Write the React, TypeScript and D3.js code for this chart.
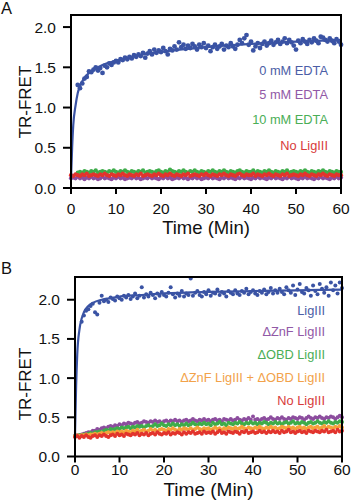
import React from "react";
import * as d3 from "d3";

const W = 354;
const H = 500;
const FONT = "'Liberation Sans', Arial, Helvetica, sans-serif";

const xTicks = [0, 10, 20, 30, 40, 50, 60];
const yTicks = [0, 0.5, 1, 1.5, 2];
const yTickLabels = ["0.0", "0.5", "1.0", "1.5", "2.0"];
const xTitle = "Time (Min)";
const yTitle = "TR-FRET";
const STEP = 0.5; // sampling interval, minutes

// ---------- Panel A ----------
const aBlueStart = 1.5;
const aBlue = [
  1.28, 1.24, 1.30, 1.36, 1.38, 1.45, 1.44, 1.47, 1.50, 1.46,
  1.49, 1.43, 1.52, 1.50, 1.55, 1.53, 1.56, 1.58, 1.56, 1.60,
  1.59, 1.62, 1.60, 1.63, 1.61, 1.65, 1.63, 1.66, 1.64, 1.68,
  1.62, 1.67, 1.70, 1.66, 1.72, 1.68, 1.71, 1.69, 1.74, 1.70,
  1.66, 1.73, 1.71, 1.76, 1.72, 1.81, 1.75, 1.78, 1.73, 1.77,
  1.74, 1.79, 1.76, 1.72, 1.78, 1.75, 1.80, 1.74, 1.77, 1.70,
  1.75, 1.78, 1.73, 1.76, 1.79, 1.72, 1.77, 1.75, 1.80, 1.76,
  1.73, 1.78, 1.84, 1.80, 1.86, 1.90, 1.78, 1.82, 1.71, 1.76,
  1.80, 1.74, 1.79, 1.82, 1.77, 1.80, 1.83, 1.78, 1.81, 1.84,
  1.79, 1.82, 1.86, 1.80, 1.84, 1.81, 1.77, 1.72, 1.83, 1.80,
  1.85, 1.82, 1.79, 1.84, 1.81, 1.86, 1.83, 1.80, 1.88, 1.87,
  1.84, 1.82, 1.86, 1.83, 1.80, 1.85, 1.82, 1.78,
];
const aPurple = [
  .12, .13, .12, .14, .12, .13, .11, .13, .12, .14,
  .12, .13, .11, .12, .14, .12, .13, .12, .11, .13,
  .12, .14, .12, .13, .11, .12, .13, .12, .14, .12,
  .13, .11, .12, .13, .12, .14, .12, .13, .12, .11,
  .13, .12, .14, .12, .13, .11, .12, .13, .12, .14,
  .12, .13, .11, .13, .12, .14, .12, .13, .11, .12,
  .13, .12, .14, .12, .13, .12, .11, .13, .12, .14,
  .12, .13, .12, .11, .13, .12, .14, .12, .13, .12,
  .11, .13, .12, .14, .12, .13, .12, .11, .13, .12,
  .14, .12, .13, .12, .11, .13, .12, .14, .12, .13,
  .12, .11, .13, .12, .14, .12, .13, .12, .11, .13,
  .12, .14, .12, .13, .12, .11, .13, .12, .14, .12,
  .13,
];
const aRed = [
  .16, .15, .17, .16, .15, .17, .16, .18, .15, .16,
  .17, .16, .15, .17, .16, .18, .16, .15, .17, .16,
  .15, .17, .16, .18, .16, .15, .17, .16, .15, .17,
  .16, .18, .15, .16, .17, .16, .15, .17, .16, .18,
  .16, .15, .17, .16, .18, .16, .15, .17, .16, .15,
  .17, .16, .18, .15, .16, .17, .16, .15, .17, .16,
  .18, .16, .15, .17, .16, .15, .17, .16, .18, .16,
  .15, .17, .16, .15, .17, .18, .16, .15, .17, .16,
  .16, .18, .15, .17, .16, .15, .17, .16, .18, .16,
  .15, .17, .16, .15, .17, .16, .18, .15, .16, .17,
  .16, .15, .17, .16, .18, .16, .15, .17, .16, .15,
  .17, .16, .18, .16, .15, .17, .16, .15, .17, .16,
  .16,
];
const aGreen = [
  null, null, null, .19, .20, .19, .21, .20, .19, .21,
  .20, .22, .19, .20, .21, .20, .19, .21, .20, .22,
  .20, .19, .21, .20, .22, .20, .19, .21, .20, .19,
  .21, .20, .22, .19, .20, .21, .20, .19, .21, .22,
  .20, .19, .21, .20, .23, .21, .20, .19, .21, .20,
  .22, .20, .19, .21, .20, .22, .20, .19, .21, .20,
  .19, .21, .20, .22, .20, .19, .21, .20, .22, .20,
  .19, .21, .20, .19, .21, .22, .20, .19, .21, .20,
  .20, .22, .19, .21, .20, .19, .21, .20, .22, .20,
  .19, .21, .20, .19, .21, .20, .22, .19, .20, .21,
  .20, .19, .21, .20, .22, .20, .19, .21, .20, .19,
  .21, .20, .22, .20, .19, .21, .20, .19, .21, .20,
  .20,
];
const aFitT = [0, 0.25, 0.5, 1, 1.5, 2, 3, 4, 6, 8, 10, 15, 20, 30, 40, 50, 60];
const aFitV = [0.12, 0.5, 0.78, 1.02, 1.18, 1.27, 1.37, 1.43, 1.50, 1.55, 1.58, 1.65, 1.69, 1.75, 1.79, 1.82, 1.84];
const aLegend = ["0 mM EDTA", "5 mM EDTA", "10 mM EDTA", "No LigIII"];

// ---------- Panel B ----------
const bBlueStart = 1.5;
const bBlue = [
  1.72, 1.80, 1.86, 1.88, 1.92, 1.95, 1.84, 1.81, 1.96, 2.05,
  1.98, 2.00, 1.97, 2.03, 2.01, 1.99, 2.04, 2.02, 2.00, 2.05,
  2.03, 2.06, 2.01, 2.04, 2.08, 2.02, 2.05, 2.16, 2.03, 2.07,
  2.04, 2.09, 2.06, 2.02, 2.08, 2.05, 2.10, 2.06, 2.04, 2.09,
  2.16, 2.07, 2.03, 2.08, 2.05, 2.11, 2.04, 2.08, 2.06, 2.27,
  2.05, 2.09, 2.11, 2.06, 2.04, 2.10, 2.07, 2.12, 2.05, 2.09,
  2.08, 2.13, 2.06, 2.10, 2.08, 2.04, 2.11, 2.09, 2.07, 2.12,
  2.08, 2.06, 2.11, 2.09, 2.14, 2.07, 2.10, 2.12, 2.08, 2.06,
  2.11, 2.09, 2.13, 2.07, 2.10, 2.15, 2.08, 2.12, 2.09, 2.14,
  2.10, 2.07, 2.16, 2.12, 2.09, 2.18, 2.06, 2.13, 2.20, 2.10,
  2.08, 2.15, 2.12, 2.05, 2.18, 2.11, 2.07, 2.20, 2.14, 2.09,
  2.16, 2.05, 2.22, 2.12, 2.18, 2.08, 2.22, 2.15,
];
const bPurple = [
  .26, .27, .27, .28, .29, .30, .31, .31, .33, .33,
  .35, .34, .36, .37, .36, .38, .39, .38, .40, .39,
  .41, .40, .42, .41, .43, .42, .41, .43, .44, .42,
  .43, .45, .44, .43, .45, .44, .46, .44, .45, .43,
  .45, .46, .44, .46, .45, .47, .45, .46, .44, .46,
  .47, .45, .46, .48, .46, .45, .47, .46, .48, .46,
  .47, .45, .47, .48, .46, .47, .45, .48, .47, .46,
  .48, .46, .47, .49, .47, .46, .48, .47, .49, .47,
  .51, .47, .48, .46, .48, .49, .47, .48, .50, .48,
  .47, .49, .48, .50, .48, .47, .49, .48, .50, .49,
  .48, .50, .49, .47, .49, .51, .49, .48, .50, .49,
  .51, .49, .48, .50, .49, .51, .50, .48, .50, .52,
  .50,
];
const bGreen = [
  .26, .26, .27, .27, .28, .28, .29, .30, .29, .31,
  .31, .32, .31, .33, .34, .33, .35, .34, .35, .36,
  .35, .37, .36, .37, .38, .36, .38, .37, .39, .38,
  .39, .37, .39, .40, .38, .39, .41, .39, .40, .42,
  .40, .39, .41, .40, .42, .40, .41, .39, .41, .40,
  .42, .40, .41, .43, .41, .40, .42, .41, .43, .41,
  .42, .40, .43, .41, .42, .44, .41, .42, .40, .43,
  .42, .41, .43, .42, .44, .42, .41, .43, .42, .44,
  .42, .43, .41, .43, .42, .44, .43, .41, .43, .42,
  .44, .42, .43, .41, .43, .44, .42, .43, .45, .42,
  .43, .42, .44, .43, .41, .43, .44, .42, .43, .45,
  .43, .42, .44, .43, .45, .43, .42, .44, .43, .45,
  .44,
];
const bOrange = [
  .26, .27, .26, .27, .27, .28, .27, .28, .28, .29,
  .28, .29, .30, .29, .30, .31, .30, .31, .30, .32,
  .31, .32, .31, .33, .32, .31, .33, .32, .34, .32,
  .33, .34, .32, .33, .35, .33, .34, .32, .34, .35,
  .34, .33, .35, .34, .36, .34, .33, .35, .34, .36,
  .35, .34, .36, .34, .35, .37, .35, .34, .36, .35,
  .36, .34, .35, .37, .35, .36, .34, .36, .35, .37,
  .36, .35, .37, .35, .36, .38, .36, .35, .37, .36,
  .35, .37, .36, .38, .36, .35, .37, .36, .38, .36,
  .37, .35, .36, .38, .37, .36, .38, .36, .37, .35,
  .37, .38, .36, .37, .35, .37, .38, .36, .37, .38,
  .36, .37, .39, .36, .38, .37, .36, .38, .37, .39,
  .37,
];
const bRed = [
  .25, .26, .24, .26, .25, .27, .25, .24, .26, .27,
  .25, .27, .26, .28, .26, .25, .27, .28, .26, .29,
  .27, .28, .26, .29, .28, .27, .29, .28, .30, .27,
  .29, .28, .30, .27, .29, .30, .28, .31, .29, .28,
  .30, .29, .31, .28, .30, .29, .31, .30, .28, .31,
  .29, .31, .30, .32, .29, .30, .31, .29, .32, .30,
  .31, .30, .32, .29, .31, .33, .30, .31, .29, .32,
  .31, .30, .32, .31, .29, .32, .31, .33, .30, .31,
  .32, .30, .31, .33, .31, .32, .30, .32, .31, .33,
  .31, .32, .30, .33, .31, .32, .34, .31, .32, .30,
  .32, .33, .31, .32, .30, .33, .32, .31, .33, .32,
  .31, .33, .32, .34, .31, .32, .33, .31, .34, .32,
  .33,
];
const bFitT = [0, 0.25, 0.5, 1, 1.5, 2, 3, 4, 6, 8, 10, 15, 20, 30, 40, 50, 60];
const bFitV = [0.27, 0.9, 1.3, 1.62, 1.76, 1.84, 1.92, 1.96, 2.0, 2.02, 2.04, 2.06, 2.08, 2.10, 2.11, 2.12, 2.13];
const bLegend = ["LigIII", "\u0394ZnF LigIII", "\u0394OBD LigIII", "\u0394ZnF LigIII + \u0394OBD LigIII", "No LigIII"];

// colours
const C = {
  blue: "#3a53a4",
  purple: "#8c4d9e",
  green: "#3eac4a",
  red: "#e2342d",
  orange: "#f5a13b",
};
const LC = {
  blue: "#4b5ea6",
  purple: "#9159a6",
  green: "#4aae56",
  red: "#d83b3b",
  orange: "#f2a24a",
};

type Series = { values: (number | null)[]; start: number; color: string; r: number };

type PanelProps = {
  letter: string;
  letterY: number;
  x0: number;
  x1: number;
  yTop: number;
  yBot: number;
  yMax: number;
  series: Series[];
  fitT: number[];
  fitV: number[];
  fitColor: string;
  legend: { text: string; color: string }[];
  legendX: number;
  legendY: number[];
  xLabelY: number;
  xTitleY: number;
  xTitleSize: number;
  yTitleX: number;
  yTitleY: number;
};

function Panel(p: PanelProps) {
  const x = d3.scaleLinear().domain([0, 60]).range([p.x0, p.x1]);
  const y = d3.scaleLinear().domain([0, p.yMax]).range([p.yBot, p.yTop]);
  const line = d3
    .line<number>()
    .x((_, i) => x(p.fitT[i]))
    .y((d) => y(d))
    .curve(d3.curveMonotoneX);
  return (
    <g>
      <text x={1} y={p.letterY} fontSize={16.5} fontFamily={FONT} fill="#111">
        {p.letter}
      </text>
      {p.series.map((s, si) => (
        <g key={si} fill={s.color}>
          {s.values.map((v, i) =>
            v == null ? null : (
              <circle key={i} cx={x(s.start + i * STEP)} cy={y(v)} r={s.r} />
            )
          )}
        </g>
      ))}
      <path d={line(p.fitV) || ""} fill="none" stroke={p.fitColor} strokeWidth={2.2} />
      {/* frame */}
      <rect
        x={p.x0}
        y={p.yTop}
        width={p.x1 - p.x0}
        height={p.yBot - p.yTop}
        fill="none"
        stroke="#000"
        strokeWidth={2}
      />
      {/* x ticks */}
      {xTicks.map((t) => (
        <g key={t}>
          <line x1={x(t)} x2={x(t)} y1={p.yBot} y2={p.yBot + 6} stroke="#000" strokeWidth={2} />
          <text
            x={x(t)}
            y={p.xLabelY}
            textAnchor="middle"
            fontSize={15.5}
            fontFamily={FONT}
            fill="#111"
          >
            {t}
          </text>
        </g>
      ))}
      {/* y ticks */}
      {yTicks.map((t, i) => (
        <g key={t}>
          <line x1={p.x0 - 8} x2={p.x0} y1={y(t)} y2={y(t)} stroke="#000" strokeWidth={2} />
          <text
            x={p.x0 - 15}
            y={y(t) + 5.5}
            textAnchor="end"
            fontSize={15.5}
            fontFamily={FONT}
            fill="#111"
          >
            {yTickLabels[i]}
          </text>
        </g>
      ))}
      <text
        x={(p.x0 + p.x1) / 2}
        y={p.xTitleY}
        textAnchor="middle"
        fontSize={p.xTitleSize}
        fontFamily={FONT}
        fill="#111"
      >
        {xTitle}
      </text>
      <text
        transform={`translate(${p.yTitleX},${p.yTitleY}) rotate(-90)`}
        textAnchor="middle"
        fontSize={17}
        fontFamily={FONT}
        fill="#111"
      >
        {yTitle}
      </text>
      {p.legend.map((l, i) => (
        <text
          key={i}
          x={p.legendX}
          y={p.legendY[i] + 4.5}
          textAnchor="end"
          fontSize={12.8}
          fontFamily={FONT}
          fill={l.color}
        >
          {l.text}
        </text>
      ))}
    </g>
  );
}

export default function App() {
  const panelA: PanelProps = {
    letter: "A",
    letterY: 14,
    x0: 71,
    x1: 341,
    yTop: 15,
    yBot: 188,
    yMax: 2.15,
    series: [
      { values: aGreen, start: 0, color: C.green, r: 2.1 },
      { values: aPurple, start: 0, color: C.purple, r: 2.1 },
      { values: aRed, start: 0, color: C.red, r: 2.1 },
      { values: aBlue, start: aBlueStart, color: C.blue, r: 2.4 },
    ],
    fitT: aFitT,
    fitV: aFitV,
    fitColor: C.blue,
    legend: [
      { text: aLegend[0], color: LC.blue },
      { text: aLegend[1], color: LC.purple },
      { text: aLegend[2], color: LC.green },
      { text: aLegend[3], color: LC.red },
    ],
    legendX: 328,
    legendY: [70, 94, 119, 145],
    xLabelY: 214,
    xTitleY: 233.5,
    xTitleSize: 18.5,
    yTitleX: 31,
    yTitleY: 102,
  };
  const panelB: PanelProps = {
    letter: "B",
    letterY: 274,
    x0: 75,
    x1: 342,
    yTop: 277,
    yBot: 456.5,
    yMax: 2.29,
    series: [
      { values: bPurple, start: 0, color: C.purple, r: 2 },
      { values: bGreen, start: 0, color: C.green, r: 2 },
      { values: bOrange, start: 0, color: C.orange, r: 2 },
      { values: bRed, start: 0, color: C.red, r: 2 },
      { values: bBlue, start: bBlueStart, color: C.blue, r: 2 },
    ],
    fitT: bFitT,
    fitV: bFitV,
    fitColor: C.blue,
    legend: [
      { text: bLegend[0], color: LC.blue },
      { text: bLegend[1], color: LC.purple },
      { text: bLegend[2], color: LC.green },
      { text: bLegend[3], color: LC.orange },
      { text: bLegend[4], color: LC.red },
    ],
    legendX: 325,
    legendY: [310, 331, 354, 377, 400],
    xLabelY: 475,
    xTitleY: 495.5,
    xTitleSize: 19,
    yTitleX: 31,
    yTitleY: 384,
  };
  return (
    <svg
      width={W}
      height={H}
      style={{ position: "absolute", left: 0, top: 0, background: "#fff" }}
    >
      <rect width={W} height={H} fill="#fff" />
      <Panel {...panelA} />
      <Panel {...panelB} />
    </svg>
  );
}
